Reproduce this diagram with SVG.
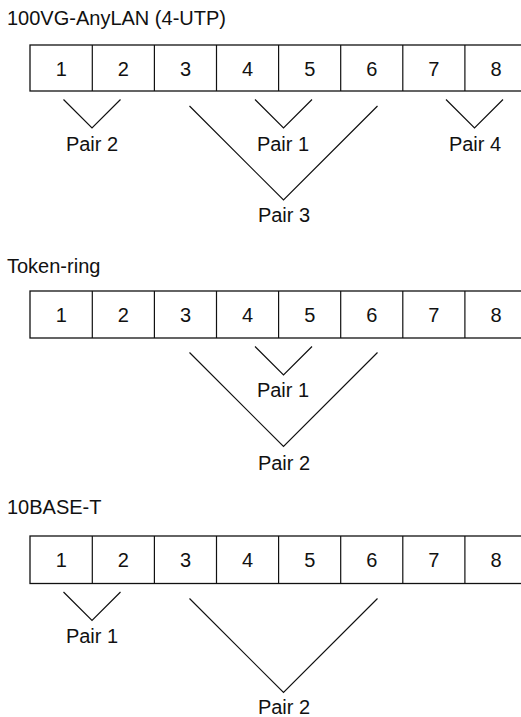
<svg xmlns="http://www.w3.org/2000/svg" width="521" height="717" viewBox="0 0 521 717">
<style>
text{font-family:"Liberation Sans",Arial,sans-serif;font-size:20px;fill:#111}
.c{text-anchor:middle}
.box{fill:#fff;stroke:#111;stroke-width:1.3}
.v{fill:none;stroke:#111;stroke-width:1.2}
</style>
<rect width="521" height="717" fill="#fff"/>
<g id="title1"><text x="7" y="25">100VG-AnyLAN (4-UTP)</text></g>
<g id="connector1" transform="translate(0,45)">
<rect class="box" x="30" y="0" width="497" height="46"/>
<path class="v" d="M92.3 0V46M154.4 0V46M216.5 0V46M278.6 0V46M340.7 0V46M402.8 0V46M464.9 0V46"/>
<text class="c" x="61.2" y="30.5">1</text><text class="c" x="123.4" y="30.5">2</text><text class="c" x="185.5" y="30.5">3</text><text class="c" x="247.6" y="30.5">4</text><text class="c" x="309.7" y="30.5">5</text><text class="c" x="371.8" y="30.5">6</text><text class="c" x="433.9" y="30.5">7</text><text class="c" x="496" y="30.5">8</text>
</g>
<g id="pairs1">
<text class="c" x="92" y="151">Pair 2</text>
<text class="c" x="283" y="151">Pair 1</text>
<text class="c" x="475" y="151">Pair 4</text>
<text class="c" x="284" y="222">Pair 3</text>
</g>
<g id="title2"><text x="7" y="273">Token-ring</text></g>
<g id="connector2" transform="translate(0,291)">
<rect class="box" x="30" y="0" width="497" height="47"/>
<path class="v" d="M92.3 0V47M154.4 0V47M216.5 0V47M278.6 0V47M340.7 0V47M402.8 0V47M464.9 0V47"/>
<text class="c" x="61.2" y="31">1</text><text class="c" x="123.4" y="31">2</text><text class="c" x="185.5" y="31">3</text><text class="c" x="247.6" y="31">4</text><text class="c" x="309.7" y="31">5</text><text class="c" x="371.8" y="31">6</text><text class="c" x="433.9" y="31">7</text><text class="c" x="496" y="31">8</text>
</g>
<g id="pairs2">
<text class="c" x="283" y="397">Pair 1</text>
<text class="c" x="284" y="470">Pair 2</text>
</g>
<g id="title3"><text x="7" y="513.5">10BASE-T</text></g>
<g id="connector3" transform="translate(0,536)">
<rect class="box" x="30" y="0" width="497" height="47.5"/>
<path class="v" d="M92.3 0V47.5M154.4 0V47.5M216.5 0V47.5M278.6 0V47.5M340.7 0V47.5M402.8 0V47.5M464.9 0V47.5"/>
<text class="c" x="61.2" y="31">1</text><text class="c" x="123.4" y="31">2</text><text class="c" x="185.5" y="31">3</text><text class="c" x="247.6" y="31">4</text><text class="c" x="309.7" y="31">5</text><text class="c" x="371.8" y="31">6</text><text class="c" x="433.9" y="31">7</text><text class="c" x="496" y="31">8</text>
</g>
<g id="pairs3">
<text class="c" x="92" y="643">Pair 1</text>
<text class="c" x="284" y="713.5">Pair 2</text>
</g>
<g id="connectors">
<path class="v" d="M63.5 99.5L92 128L120.5 99.5"/>
<path class="v" d="M255 99.5L283.5 128L312 99.5"/>
<path class="v" d="M446 99.5L474.5 128L503 99.5"/>
<path class="v" d="M189.5 106L283.5 200L377.5 106"/>
<path class="v" d="M255 346.5L283.5 375L312 346.5"/>
<path class="v" d="M189.5 352.5L283.5 446.5L377.5 352.5"/>
<path class="v" d="M63.5 592L92 620.5L120.5 592"/>
<path class="v" d="M189.5 598.5L283.5 692.5L377.5 598.5"/>
</g>
</svg>
